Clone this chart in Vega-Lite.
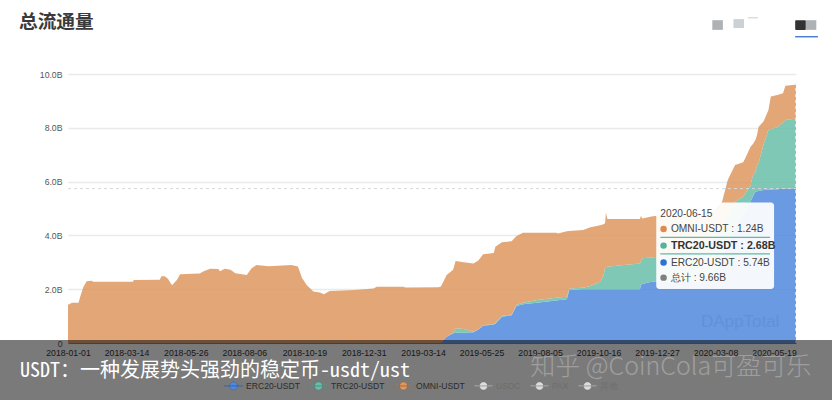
{
  "$schema": "https://vega.github.io/schema/vega-lite/v6.json",
  "width": 728,
  "height": 269,
  "autosize": "none",
  "padding": {"left": 68, "top": 74, "right": 36, "bottom": 57},
  "background": "white",
  "title": {"text": "总流通量", "anchor": "start", "frame": "group", "font": "Noto Sans CJK SC", "fontSize": 18.7, "fontWeight": "bold", "color": "#3a3a3a", "dx": -49, "offset": -14},
  "config": {"view": {"stroke": null}, "font": "Liberation Sans"},
  "datasets": {
    "supply": [
      {"date":"2018-01-01","ERC20-USDT":0,"TRC20-USDT":0,"OMNI-USDT":1.42},
      {"date":"2018-01-06","ERC20-USDT":0,"TRC20-USDT":0,"OMNI-USDT":1.5},
      {"date":"2018-01-14","ERC20-USDT":0,"TRC20-USDT":0,"OMNI-USDT":1.5},
      {"date":"2018-01-16","ERC20-USDT":0,"TRC20-USDT":0,"OMNI-USDT":1.72},
      {"date":"2018-01-20","ERC20-USDT":0,"TRC20-USDT":0,"OMNI-USDT":2.09},
      {"date":"2018-01-24","ERC20-USDT":0,"TRC20-USDT":0,"OMNI-USDT":2.3},
      {"date":"2018-01-30","ERC20-USDT":0,"TRC20-USDT":0,"OMNI-USDT":2.31},
      {"date":"2018-02-01","ERC20-USDT":0,"TRC20-USDT":0,"OMNI-USDT":2.28},
      {"date":"2018-03-22","ERC20-USDT":0,"TRC20-USDT":0,"OMNI-USDT":2.28},
      {"date":"2018-03-23","ERC20-USDT":0,"TRC20-USDT":0,"OMNI-USDT":2.34},
      {"date":"2018-04-24","ERC20-USDT":0,"TRC20-USDT":0,"OMNI-USDT":2.35},
      {"date":"2018-04-26","ERC20-USDT":0,"TRC20-USDT":0,"OMNI-USDT":2.48},
      {"date":"2018-04-30","ERC20-USDT":0,"TRC20-USDT":0,"OMNI-USDT":2.48},
      {"date":"2018-05-04","ERC20-USDT":0,"TRC20-USDT":0,"OMNI-USDT":2.39},
      {"date":"2018-05-09","ERC20-USDT":0,"TRC20-USDT":0,"OMNI-USDT":2.15},
      {"date":"2018-05-15","ERC20-USDT":0,"TRC20-USDT":0,"OMNI-USDT":2.34},
      {"date":"2018-05-19","ERC20-USDT":0,"TRC20-USDT":0,"OMNI-USDT":2.56},
      {"date":"2018-06-12","ERC20-USDT":0,"TRC20-USDT":0,"OMNI-USDT":2.58},
      {"date":"2018-06-17","ERC20-USDT":0,"TRC20-USDT":0,"OMNI-USDT":2.67},
      {"date":"2018-06-25","ERC20-USDT":0,"TRC20-USDT":0,"OMNI-USDT":2.76},
      {"date":"2018-07-05","ERC20-USDT":0,"TRC20-USDT":0,"OMNI-USDT":2.75},
      {"date":"2018-07-07","ERC20-USDT":0,"TRC20-USDT":0,"OMNI-USDT":2.67},
      {"date":"2018-07-13","ERC20-USDT":0,"TRC20-USDT":0,"OMNI-USDT":2.76},
      {"date":"2018-07-20","ERC20-USDT":0,"TRC20-USDT":0,"OMNI-USDT":2.72},
      {"date":"2018-07-26","ERC20-USDT":0,"TRC20-USDT":0,"OMNI-USDT":2.59},
      {"date":"2018-08-09","ERC20-USDT":0,"TRC20-USDT":0,"OMNI-USDT":2.53},
      {"date":"2018-08-15","ERC20-USDT":0,"TRC20-USDT":0,"OMNI-USDT":2.78},
      {"date":"2018-08-21","ERC20-USDT":0,"TRC20-USDT":0,"OMNI-USDT":2.9},
      {"date":"2018-09-05","ERC20-USDT":0,"TRC20-USDT":0,"OMNI-USDT":2.85},
      {"date":"2018-10-03","ERC20-USDT":0,"TRC20-USDT":0,"OMNI-USDT":2.9},
      {"date":"2018-10-11","ERC20-USDT":0,"TRC20-USDT":0,"OMNI-USDT":2.84},
      {"date":"2018-10-16","ERC20-USDT":0,"TRC20-USDT":0,"OMNI-USDT":2.42},
      {"date":"2018-10-22","ERC20-USDT":0,"TRC20-USDT":0,"OMNI-USDT":2.15},
      {"date":"2018-10-30","ERC20-USDT":0,"TRC20-USDT":0,"OMNI-USDT":1.91},
      {"date":"2018-11-07","ERC20-USDT":0,"TRC20-USDT":0,"OMNI-USDT":1.88},
      {"date":"2018-11-12","ERC20-USDT":0,"TRC20-USDT":0,"OMNI-USDT":1.81},
      {"date":"2018-11-19","ERC20-USDT":0,"TRC20-USDT":0,"OMNI-USDT":1.93},
      {"date":"2018-12-20","ERC20-USDT":0,"TRC20-USDT":0,"OMNI-USDT":1.97},
      {"date":"2019-01-12","ERC20-USDT":0,"TRC20-USDT":0,"OMNI-USDT":2.03},
      {"date":"2019-01-16","ERC20-USDT":0,"TRC20-USDT":0,"OMNI-USDT":2.09},
      {"date":"2019-02-18","ERC20-USDT":0,"TRC20-USDT":0,"OMNI-USDT":2.09},
      {"date":"2019-02-20","ERC20-USDT":0,"TRC20-USDT":0,"OMNI-USDT":2.06},
      {"date":"2019-04-02","ERC20-USDT":0,"TRC20-USDT":0,"OMNI-USDT":2.07},
      {"date":"2019-04-05","ERC20-USDT":0,"TRC20-USDT":0,"OMNI-USDT":2.1},
      {"date":"2019-04-08","ERC20-USDT":0.11,"TRC20-USDT":0,"OMNI-USDT":2.17},
      {"date":"2019-04-12","ERC20-USDT":0.23,"TRC20-USDT":0,"OMNI-USDT":2.3},
      {"date":"2019-04-20","ERC20-USDT":0.36,"TRC20-USDT":0.02,"OMNI-USDT":2.34},
      {"date":"2019-04-23","ERC20-USDT":0.38,"TRC20-USDT":0.17,"OMNI-USDT":2.5},
      {"date":"2019-05-03","ERC20-USDT":0.38,"TRC20-USDT":0.14,"OMNI-USDT":2.48},
      {"date":"2019-05-15","ERC20-USDT":0.4,"TRC20-USDT":0.02,"OMNI-USDT":2.54},
      {"date":"2019-05-21","ERC20-USDT":0.5,"TRC20-USDT":0.01,"OMNI-USDT":2.56},
      {"date":"2019-05-27","ERC20-USDT":0.64,"TRC20-USDT":0.02,"OMNI-USDT":2.64},
      {"date":"2019-06-09","ERC20-USDT":0.69,"TRC20-USDT":0.02,"OMNI-USDT":2.64},
      {"date":"2019-06-11","ERC20-USDT":0.72,"TRC20-USDT":0.02,"OMNI-USDT":2.84},
      {"date":"2019-06-19","ERC20-USDT":0.98,"TRC20-USDT":0.02,"OMNI-USDT":2.75},
      {"date":"2019-07-01","ERC20-USDT":1.03,"TRC20-USDT":0.03,"OMNI-USDT":2.72},
      {"date":"2019-07-07","ERC20-USDT":1.38,"TRC20-USDT":0.04,"OMNI-USDT":2.56},
      {"date":"2019-07-15","ERC20-USDT":1.44,"TRC20-USDT":0.06,"OMNI-USDT":2.6},
      {"date":"2019-08-01","ERC20-USDT":1.5,"TRC20-USDT":0.1,"OMNI-USDT":2.5},
      {"date":"2019-08-25","ERC20-USDT":1.58,"TRC20-USDT":0.1,"OMNI-USDT":2.42},
      {"date":"2019-08-27","ERC20-USDT":1.59,"TRC20-USDT":0.1,"OMNI-USDT":2.38},
      {"date":"2019-09-07","ERC20-USDT":1.63,"TRC20-USDT":0.09,"OMNI-USDT":2.43},
      {"date":"2019-09-10","ERC20-USDT":1.97,"TRC20-USDT":0.06,"OMNI-USDT":2.13},
      {"date":"2019-09-27","ERC20-USDT":2,"TRC20-USDT":0.05,"OMNI-USDT":2.15},
      {"date":"2019-10-06","ERC20-USDT":2,"TRC20-USDT":0.12,"OMNI-USDT":2.18},
      {"date":"2019-10-18","ERC20-USDT":2,"TRC20-USDT":0.28,"OMNI-USDT":2.1},
      {"date":"2019-10-22","ERC20-USDT":2,"TRC20-USDT":0.5,"OMNI-USDT":1.91},
      {"date":"2019-10-24","ERC20-USDT":2,"TRC20-USDT":0.81,"OMNI-USDT":1.64},
      {"date":"2019-10-25","ERC20-USDT":2,"TRC20-USDT":0.82,"OMNI-USDT":2.02},
      {"date":"2019-10-27","ERC20-USDT":2,"TRC20-USDT":0.83,"OMNI-USDT":1.78},
      {"date":"2019-11-16","ERC20-USDT":2,"TRC20-USDT":0.9,"OMNI-USDT":1.71},
      {"date":"2019-12-06","ERC20-USDT":2,"TRC20-USDT":0.96,"OMNI-USDT":1.65},
      {"date":"2019-12-07","ERC20-USDT":2.15,"TRC20-USDT":0.9,"OMNI-USDT":1.67},
      {"date":"2019-12-09","ERC20-USDT":2.19,"TRC20-USDT":0.96,"OMNI-USDT":1.48},
      {"date":"2019-12-20","ERC20-USDT":2.28,"TRC20-USDT":0.9,"OMNI-USDT":1.52},
      {"date":"2019-12-27","ERC20-USDT":2.28,"TRC20-USDT":0.92,"OMNI-USDT":1.53},
      {"date":"2020-02-18","ERC20-USDT":2.3,"TRC20-USDT":1.3,"OMNI-USDT":1.2},
      {"date":"2020-03-07","ERC20-USDT":2.7,"TRC20-USDT":1.3,"OMNI-USDT":0.95},
      {"date":"2020-03-16","ERC20-USDT":3.1,"TRC20-USDT":1.3,"OMNI-USDT":0.85},
      {"date":"2020-03-23","ERC20-USDT":3.7,"TRC20-USDT":1.0,"OMNI-USDT":1.36},
      {"date":"2020-04-01","ERC20-USDT":4.3,"TRC20-USDT":0.95,"OMNI-USDT":1.37},
      {"date":"2020-04-11","ERC20-USDT":4.8,"TRC20-USDT":0.65,"OMNI-USDT":1.27},
      {"date":"2020-04-14","ERC20-USDT":4.9,"TRC20-USDT":0.68,"OMNI-USDT":1.32},
      {"date":"2020-04-20","ERC20-USDT":5.25,"TRC20-USDT":0.6,"OMNI-USDT":1.45},
      {"date":"2020-04-23","ERC20-USDT":5.45,"TRC20-USDT":0.8,"OMNI-USDT":1.15},
      {"date":"2020-04-26","ERC20-USDT":5.62,"TRC20-USDT":0.73,"OMNI-USDT":1.2},
      {"date":"2020-04-28","ERC20-USDT":5.64,"TRC20-USDT":0.96,"OMNI-USDT":1.13},
      {"date":"2020-04-30","ERC20-USDT":5.65,"TRC20-USDT":1.05,"OMNI-USDT":1.34},
      {"date":"2020-05-06","ERC20-USDT":5.69,"TRC20-USDT":1.67,"OMNI-USDT":0.87},
      {"date":"2020-05-12","ERC20-USDT":5.7,"TRC20-USDT":2.22,"OMNI-USDT":0.73},
      {"date":"2020-05-15","ERC20-USDT":5.71,"TRC20-USDT":2.25,"OMNI-USDT":1.2},
      {"date":"2020-05-23","ERC20-USDT":5.72,"TRC20-USDT":2.3,"OMNI-USDT":1.2},
      {"date":"2020-05-30","ERC20-USDT":5.73,"TRC20-USDT":2.47,"OMNI-USDT":1.08},
      {"date":"2020-06-02","ERC20-USDT":5.73,"TRC20-USDT":2.56,"OMNI-USDT":1.27},
      {"date":"2020-06-14","ERC20-USDT":5.74,"TRC20-USDT":2.6,"OMNI-USDT":1.26},
      {"date":"2020-06-15","ERC20-USDT":5.74,"TRC20-USDT":2.68,"OMNI-USDT":1.24}
    ],
    "stackOrder": [
      {"series":"ERC20-USDT","rank":1},
      {"series":"TRC20-USDT","rank":2},
      {"series":"OMNI-USDT","rank":3}
    ]
  },
  "encoding": {
    "x": {
      "field": "date",
      "type": "temporal",
      "title": null,
      "scale": {"type": "utc", "domain": ["2018-01-01", "2020-06-15"]},
      "axis": {
        "values": ["2018-01-01","2018-03-14","2018-05-26","2018-08-06","2018-10-19","2018-12-31","2019-03-14","2019-05-25","2019-08-05","2019-10-16","2019-12-27","2020-03-08","2020-05-19"],
        "format": "%Y-%m-%d",
        "grid": false,
        "ticks": false,
        "domain": true,
        "domainColor": "#888888",
        "labelFontSize": 8.7,
        "labelColor": "#333333",
        "labelPadding": 5,
        "labelOverlap": false,
        "labelFlush": false
      }
    },
    "y": {
      "field": "value",
      "type": "quantitative",
      "title": null,
      "scale": {"domain": [0, 10], "nice": false},
      "axis": {
        "values": [0, 2, 4, 6, 8, 10],
        "labelExpr": "datum.value == 0 ? '0' : format(datum.value, '.1f') + 'B'",
        "domain": false,
        "ticks": false,
        "grid": true,
        "gridColor": "#e8eaec",
        "gridWidth": 1.5,
        "labelFontSize": 8.7,
        "labelColor": "#555555",
        "labelPadding": 6
      }
    }
  },
  "layer": [
    {
      "data": {"name": "supply"},
      "transform": [
        {"fold": ["ERC20-USDT", "TRC20-USDT", "OMNI-USDT"], "as": ["series", "value"]},
        {"lookup": "series", "from": {"data": {"name": "stackOrder"}, "key": "series", "fields": ["rank"]}}
      ],
      "mark": {"type": "area", "opacity": 0.85},
      "encoding": {
        "y": {"field": "value", "type": "quantitative", "stack": "zero"},
        "order": {"field": "rank", "type": "quantitative"},
        "color": {
          "field": "series",
          "type": "nominal",
          "scale": {
            "domain": ["ERC20-USDT", "TRC20-USDT", "OMNI-USDT", "USDC", "PAX", "其他"],
            "range": ["#5088dd", "#68bea9", "#de975e", "#dddddd", "#dddddd", "#dddddd"]
          },
          "legend": {
            "title": null,
            "orient": "none",
            "legendX": 161,
            "legendY": 307,
            "direction": "horizontal",
            "columns": 6,
            "symbolType": "M-2.3,-0.1H2.3V0.1H-2.3Z M-1,0A1,1 0 1,1 1,0A1,1 0 1,1 -1,0Z",
            "symbolSize": 64,
            "symbolOpacity": 1,
            "labelFont": "Liberation Sans",
            "labelFontSize": 8.6,
            "labelOffset": 8,
            "columnPadding": 8,
            "encode": {
              "symbols": {"update": {
                "fill": {"signal": "datum.value == 'ERC20-USDT' ? '#224d8c' : datum.value == 'TRC20-USDT' ? '#2f7563' : datum.value == 'OMNI-USDT' ? '#7f4f2e' : '#6c6c6c'"},
                "stroke": {"signal": "datum.value == 'ERC20-USDT' ? '#224d8c' : datum.value == 'TRC20-USDT' ? '#2f7563' : datum.value == 'OMNI-USDT' ? '#7f4f2e' : '#6c6c6c'"},
                "strokeWidth": {"value": 0.3}
              }},
              "labels": {"update": {"fill": {"signal": "indexof(['USDC','PAX','其他'], datum.value) >= 0 ? '#6e6e6e' : '#2c2c2c'"}}}
            }
          }
        }
      }
    },
    {
      "data": {"values": [{"value": 5.74}]},
      "mark": {"type": "rule", "color": "#d6d8da", "strokeDash": [3, 3], "strokeWidth": 1},
      "encoding": {"x": {"value": 0}, "x2": {"value": 728}, "y": {"field": "value", "type": "quantitative"}}
    },
    {
      "data": {"values": [{"date": "2020-06-15", "value": 0, "top": 9.66}]},
      "mark": {"type": "rule", "color": "#ffffff", "strokeDash": [3, 3], "strokeWidth": 1.5, "opacity": 0.8},
      "encoding": {
        "y": {"field": "value", "type": "quantitative"},
        "y2": {"field": "top"}
      }
    },
    {
      "data": {"values": [{"date": "2020-02-19", "value": 0.78, "label": "DAppTotal"}]},
      "mark": {"type": "text", "align": "left", "baseline": "middle", "fontSize": 17, "font": "Liberation Sans", "color": "#5a8bd8", "opacity": 0.55},
      "encoding": {"y": {"field": "value", "type": "quantitative"}, "text": {"field": "label"}}
    },
    {
      "data": {"values": [{"date": "2019-12-26", "end": "2020-05-19", "value": 2.01, "top": 5.22}]},
      "mark": {"type": "rect", "fill": "#ffffff", "opacity": 0.93, "cornerRadius": 3},
      "encoding": {
        "x2": {"field": "end"},
        "y": {"field": "value", "type": "quantitative"},
        "y2": {"field": "top"}
      }
    },
    {
      "data": {"values": [
        {"date": "2019-12-31", "end": "2020-05-14", "value": 3.93},
        {"date": "2019-12-31", "end": "2020-05-14", "value": 3.31}
      ]},
      "mark": {"type": "rule", "color": "#62b8a4", "strokeWidth": 1.2},
      "encoding": {"x2": {"field": "end"}, "y": {"field": "value", "type": "quantitative"}}
    },
    {
      "data": {"values": [
        {"date": "2020-01-04", "value": 4.24, "item": "OMNI"},
        {"date": "2020-01-04", "value": 3.62, "item": "TRC20"},
        {"date": "2020-01-04", "value": 2.99, "item": "ERC20"},
        {"date": "2020-01-04", "value": 2.43, "item": "总计"}
      ]},
      "mark": {"type": "circle", "size": 42, "opacity": 1},
      "encoding": {
        "y": {"field": "value", "type": "quantitative"},
        "fill": {
          "field": "item",
          "type": "nominal",
          "legend": null,
          "scale": {"domain": ["OMNI", "TRC20", "ERC20", "总计"], "range": ["#e08a4c", "#4fb59c", "#2f72d6", "#808080"]}
        }
      }
    },
    {
      "data": {"values": [
        {"date": "2019-12-31", "value": 4.81, "label": "2020-06-15"},
        {"date": "2020-01-13", "value": 4.24, "label": "OMNI-USDT : 1.24B"},
        {"date": "2020-01-13", "value": 2.99, "label": "ERC20-USDT : 5.74B"},
        {"date": "2020-01-13", "value": 2.43, "label": "总计 : 9.66B"}
      ]},
      "mark": {"type": "text", "align": "left", "baseline": "middle", "fontSize": 10.2, "font": "Liberation Sans", "color": "#444444"},
      "encoding": {"y": {"field": "value", "type": "quantitative"}, "text": {"field": "label"}}
    },
    {
      "data": {"values": [{"date": "2020-01-13", "value": 3.62, "label": "TRC20-USDT : 2.68B"}]},
      "mark": {"type": "text", "align": "left", "baseline": "middle", "fontSize": 10.7, "font": "Liberation Sans", "fontWeight": "bold", "color": "#333333"},
      "encoding": {"y": {"field": "value", "type": "quantitative"}, "text": {"field": "label"}}
    },
    {
      "data": {"values": [
        {"date": "2020-03-04", "end": "2020-03-17", "value": 11.64, "top": 12.0},
        {"date": "2020-06-27", "end": "2020-07-10", "value": 11.64, "top": 12.0}
      ]},
      "mark": {"type": "rect", "fill": "#aeb2b4"},
      "encoding": {"x2": {"field": "end"}, "y": {"field": "value", "type": "quantitative"}, "y2": {"field": "top"}}
    },
    {
      "data": {"values": [
        {"date": "2020-03-30", "end": "2020-04-12", "value": 11.71, "top": 12.04},
        {"date": "2020-04-17", "end": "2020-04-29", "value": 12.07, "top": 12.11}
      ]},
      "mark": {"type": "rect", "fill": "#cdd1d3"},
      "encoding": {"x2": {"field": "end"}, "y": {"field": "value", "type": "quantitative"}, "y2": {"field": "top"}}
    },
    {
      "data": {"values": [{"date": "2020-06-14", "end": "2020-06-27", "value": 11.64, "top": 12.0}]},
      "mark": {"type": "rect", "fill": "#333333", "cornerRadius": 1},
      "encoding": {"x2": {"field": "end"}, "y": {"field": "value", "type": "quantitative"}, "y2": {"field": "top"}}
    },
    {
      "data": {"values": [{"date": "2020-06-14", "end": "2020-07-12", "value": 11.41, "top": 11.36}]},
      "mark": {"type": "rect", "fill": "#3a74c8"},
      "encoding": {"x2": {"field": "end"}, "y": {"field": "value", "type": "quantitative"}, "y2": {"field": "top"}}
    },
    {
      "data": {"values": [{"date": "2017-09-01", "end": "2020-09-01", "value": 0.11, "bottom": -2.3}]},
      "mark": {"type": "rect", "fill": "#000000", "opacity": 0.52},
      "encoding": {"x2": {"field": "end"}, "y": {"field": "value", "type": "quantitative"}, "y2": {"field": "bottom"}}
    },
    {
      "data": {"values": [{"date": "2017-11-03", "value": -1.05, "label": "USDT：一种发展势头强劲的稳定币-usdt/ust"}]},
      "mark": {"type": "text", "align": "left", "baseline": "middle", "fontSize": 20, "font": "Noto Sans Mono CJK SC, DejaVu Sans Mono, Noto Sans CJK SC", "color": "#ffffff"},
      "encoding": {"y": {"field": "value", "type": "quantitative"}, "text": {"field": "label"}}
    },
    {
      "data": {"values": [{"date": "2019-07-24", "value": -0.9, "label": "知乎 @CoinCola可盈可乐"}]},
      "mark": {"type": "text", "align": "left", "baseline": "middle", "fontSize": 25, "font": "Noto Sans CJK SC", "fontWeight": 300, "color": "#ffffff", "opacity": 0.27},
      "encoding": {"y": {"field": "value", "type": "quantitative"}, "text": {"field": "label"}}
    }
  ]
}
